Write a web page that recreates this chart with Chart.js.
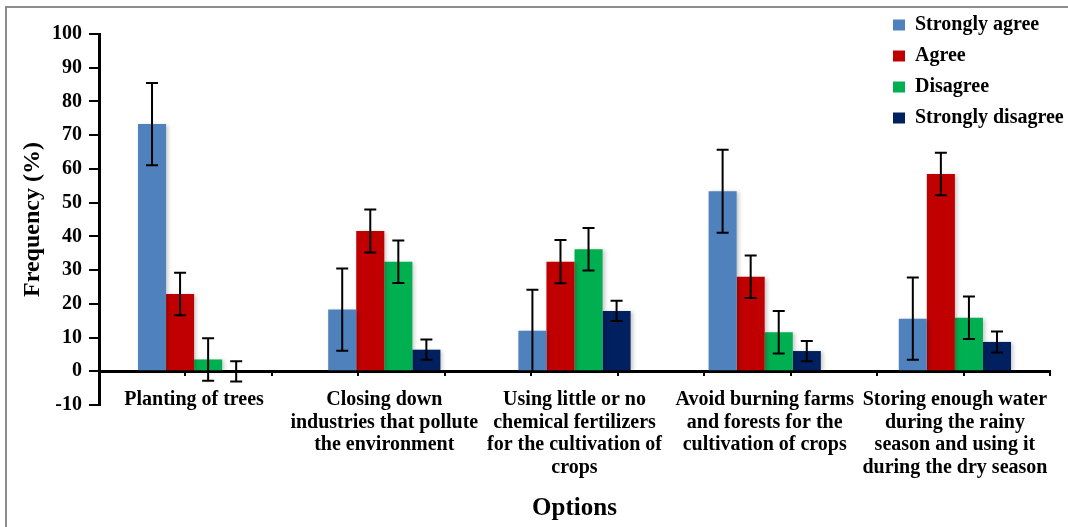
<!DOCTYPE html>
<html>
<head>
<meta charset="utf-8">
<script src="https://cdn.jsdelivr.net/npm/chart.js@4.4.1/dist/chart.umd.min.js"></script>
<style>
  html, body { margin: 0; padding: 0; background: #fff; overflow: hidden; }
  #wrap { position: relative; width: 1068px; height: 527px; }
  #frame { position: absolute; left: 5px; top: 6px; width: 3000px; height: 3000px;
           border: 2px solid #8c8c8c; pointer-events: none; }
</style>
</head>
<body>
<div id="wrap">
  <canvas id="chart" width="1068" height="527"></canvas>
  <div id="frame"></div>
</div>
<script>
const options = [
  "Planting of trees",
  ["Closing down", "industries that pollute", "the environment"],
  ["Using little or no", "chemical fertilizers", "for the cultivation of", "crops"],
  ["Avoid burning farms", "and forests for the", "cultivation of crops"],
  ["Storing enough water", "during the rainy", "season and using it", "during the dry season"]
];

const stronglyAgree = [73.3, 18.3, 12.0, 53.4, 15.6];
const agree = [22.9, 41.6, 32.5, 28.0, 58.5];
const disagree = [3.5, 32.5, 36.2, 11.6, 15.9];
const stronglyDisagree = [0, 6.4, 17.9, 6.0, 8.7];

const errStronglyAgree = [12.2, 12.2, 12.2, 12.3, 12.2];
const errAgree = [6.3, 6.4, 6.4, 6.3, 6.3];
const errDisagree = [6.3, 6.3, 6.3, 6.3, 6.3];
const errStronglyDisagree = [3.0, 3.0, 3.0, 3.0, 3.1];

const yTicks = { min: -10, max: 100, step: 10 };

const serif = "'Liberation Serif', 'Times New Roman', serif";

// soft shadow under the bars, then the error bars on top
const errorBars = {
  id: "errorBars",
  beforeDatasetsDraw(chart) {
    const ctx = chart.ctx;
    ctx.save();
    ctx.shadowColor = "rgba(0,0,0,0.22)";
    ctx.shadowBlur = 4;
    ctx.shadowOffsetX = 2;
    ctx.shadowOffsetY = 1;
  },
  afterDatasetsDraw(chart) {
    const ctx = chart.ctx;
    ctx.restore();
    const y = chart.scales.y;
    ctx.save();
    ctx.strokeStyle = "#000";
    ctx.lineWidth = 2;
    chart.data.datasets.forEach((ds, i) => {
      const meta = chart.getDatasetMeta(i);
      meta.data.forEach((bar, j) => {
        const v = ds.data[j], e = ds.errors[j];
        const top = y.getPixelForValue(v + e);
        const bot = y.getPixelForValue(v - e);
        const x = bar.x;
        ctx.beginPath();
        ctx.moveTo(x, top); ctx.lineTo(x, bot);
        ctx.moveTo(x - 6, top); ctx.lineTo(x + 6, top);
        ctx.moveTo(x - 6, bot); ctx.lineTo(x + 6, bot);
        ctx.stroke();
      });
    });
    ctx.restore();
  }
};

const legendPlace = {
  id: "legendPlace",
  afterLayout(chart) {
    const lg = chart.legend;
    lg.left = 882;
    lg.top = 4;
    lg.right = lg.left + lg.width;
    lg.bottom = lg.top + lg.height;
  }
};

function series(label, data, errors, color) {
  return {
    label, data, errors,
    backgroundColor: color,
    borderWidth: 0,
    xAxisID: "x",
    yAxisID: "y",
    categoryPercentage: 0.59,
    barPercentage: 1.0
  };
}

new Chart(document.getElementById("chart"), {
  type: "bar",
  data: {
    labels: options,
    datasets: [
      series("Strongly agree", stronglyAgree, errStronglyAgree, "#4F81BD"),
      series("Agree", agree, errAgree, "#C00000"),
      series("Disagree", disagree, errDisagree, "#00B050"),
      series("Strongly disagree", stronglyDisagree, errStronglyDisagree, "#002060")
    ]
  },
  options: {
    responsive: false,
    animation: false,
    devicePixelRatio: 1,
    layout: { padding: { left: 8, right: 18, top: 34, bottom: 0 } },
    plugins: {
      legend: {
        position: "chartArea",
        align: "start",
        labels: {
          boxWidth: 12,
          boxHeight: 11,
          padding: 11,
          color: "#000",
          font: { family: serif, size: 20, weight: "bold" }
        }
      },
      title: {
        display: true,
        fullSize: false,
        position: "bottom",
        text: "Options",
        color: "#000",
        font: { family: serif, size: 25, weight: "bold" },
        padding: { top: 89, bottom: 3 }
      },
      tooltip: { enabled: false }
    },
    scales: {
      x: {
        type: "category",
        position: { y: 0 },
        offset: true,
        grid: { display: true, drawOnChartArea: false, drawTicks: false, color: "transparent" },
        border: { display: true, color: "#000", width: 3 },
        ticks: {
          color: "#000",
          padding: 17,
          maxRotation: 0,
          autoSkip: false,
          font: { family: serif, size: 20, weight: "bold", lineHeight: 1.14 }
        }
      },
      x2: {
        type: "linear",
        position: { y: 0 },
        min: 0,
        max: 10,
        ticks: { stepSize: 1, display: false },
        grid: { drawOnChartArea: false, drawTicks: true, tickLength: 5, color: "#000", lineWidth: 2 },
        border: { display: false }
      },
      y: {
        position: "left",
        min: yTicks.min,
        max: yTicks.max,
        afterFit(scale) { scale.width = 91; },
        ticks: {
          stepSize: yTicks.step,
          color: "#000",
          padding: 7,
          font: { family: serif, size: 20, weight: "bold" }
        },
        grid: { drawOnChartArea: false, tickLength: 10, color: "#000", lineWidth: 2 },
        border: { display: true, color: "#000", width: 3 },
        title: {
          display: true,
          text: "Frequency (%)",
          color: "#000",
          padding: { top: 10, bottom: 0 },
          font: { family: serif, size: 24, weight: "bold" }
        }
      }
    }
  },
  plugins: [errorBars, legendPlace]
});
</script>
</body>
</html>
